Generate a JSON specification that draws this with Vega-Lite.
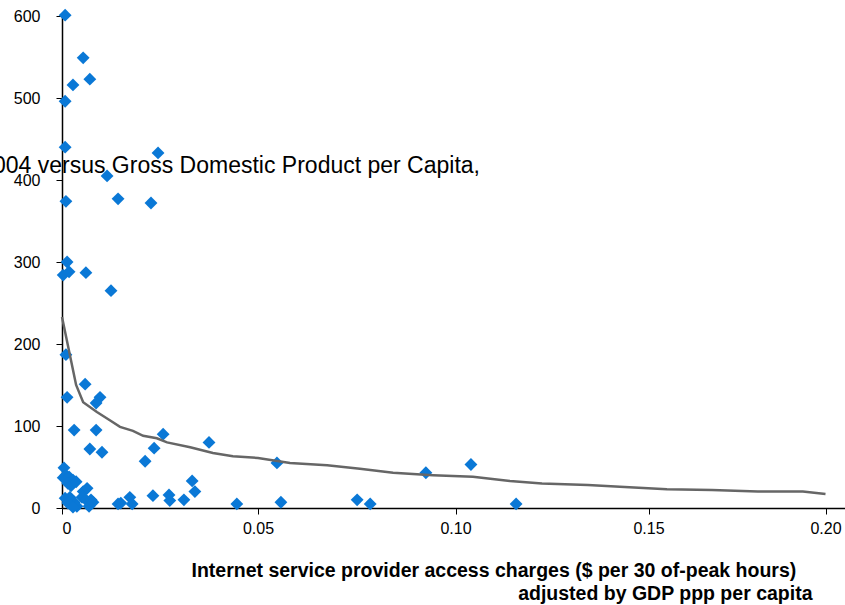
{
  "$schema": "https://vega.github.io/schema/vega-lite/v6.json",
  "width": 783,
  "height": 492,
  "autosize": {"type": "none"},
  "padding": {"left": 62, "top": 16, "right": 0, "bottom": 97},
  "background": "white",
  "title": {
    "text": "2004 versus Gross Domestic Product per Capita,",
    "anchor": "end",
    "frame": "group",
    "orient": "top",
    "offset": 0,
    "baseline": "alphabetic",
    "dx": -365,
    "dy": 188,
    "font": "Liberation Sans",
    "fontSize": 23,
    "fontWeight": "normal",
    "color": "#000000"
  },
  "config": {
    "view": {"stroke": null},
    "font": "Liberation Sans",
    "axis": {
      "grid": false,
      "domainColor": "#000000",
      "domainWidth": 1.5,
      "tickColor": "#000000",
      "tickSize": 6,
      "labelColor": "#000000",
      "labelFont": "Liberation Sans",
      "labelFontSize": 16,
      "titleColor": "#000000"
    }
  },
  "datasets": {
    "pts": [
      {"x": 0.0008, "y": 601}, {"x": 0.0054, "y": 549}, {"x": 0.0028, "y": 516}, {"x": 0.0071, "y": 523},
      {"x": 0.0008, "y": 496}, {"x": 0.0008, "y": 440}, {"x": 0.0245, "y": 433}, {"x": 0.0115, "y": 405},
      {"x": 0.001, "y": 374}, {"x": 0.0143, "y": 377}, {"x": 0.0227, "y": 372}, {"x": 0.0013, "y": 300},
      {"x": 0.0003, "y": 284}, {"x": 0.0018, "y": 288}, {"x": 0.0061, "y": 287}, {"x": 0.0125, "y": 265},
      {"x": 0.001, "y": 187}, {"x": 0.0059, "y": 151}, {"x": 0.0013, "y": 135}, {"x": 0.0097, "y": 135},
      {"x": 0.0087, "y": 128}, {"x": 0.0031, "y": 95}, {"x": 0.0087, "y": 95}, {"x": 0.0071, "y": 72},
      {"x": 0.0102, "y": 68}, {"x": 0.0212, "y": 57}, {"x": 0.0235, "y": 73}, {"x": 0.0258, "y": 90},
      {"x": 0.0375, "y": 80}, {"x": 0.0332, "y": 33}, {"x": 0.0339, "y": 20}, {"x": 0.0446, "y": 5},
      {"x": 0.0232, "y": 15}, {"x": 0.0273, "y": 16}, {"x": 0.0275, "y": 9}, {"x": 0.0311, "y": 10},
      {"x": 0.0173, "y": 13}, {"x": 0.0179, "y": 5}, {"x": 0.0143, "y": 5}, {"x": 0.015, "y": 6},
      {"x": 0.0005, "y": 49}, {"x": 0.001, "y": 40}, {"x": 0.0003, "y": 37}, {"x": 0.0018, "y": 38},
      {"x": 0.0028, "y": 34}, {"x": 0.0015, "y": 30}, {"x": 0.0023, "y": 27}, {"x": 0.0036, "y": 32},
      {"x": 0.0008, "y": 12}, {"x": 0.002, "y": 13}, {"x": 0.0031, "y": 7}, {"x": 0.0015, "y": 6},
      {"x": 0.0038, "y": 2}, {"x": 0.0028, "y": 1}, {"x": 0.0054, "y": 20}, {"x": 0.0064, "y": 24},
      {"x": 0.0051, "y": 13}, {"x": 0.0061, "y": 10}, {"x": 0.0074, "y": 10}, {"x": 0.0069, "y": 2},
      {"x": 0.0079, "y": 7}, {"x": 0.0548, "y": 55}, {"x": 0.0558, "y": 7}, {"x": 0.0751, "y": 10},
      {"x": 0.0784, "y": 5}, {"x": 0.0925, "y": 43}, {"x": 0.104, "y": 53}, {"x": 0.1157, "y": 5}
    ],
    "trend": [
      {"x": 0, "y": 233}, {"x": 0.0036, "y": 150}, {"x": 0.0054, "y": 129}, {"x": 0.0089, "y": 117},
      {"x": 0.0122, "y": 107}, {"x": 0.0148, "y": 99}, {"x": 0.0181, "y": 94}, {"x": 0.0207, "y": 88},
      {"x": 0.0242, "y": 85}, {"x": 0.0268, "y": 80}, {"x": 0.0327, "y": 74}, {"x": 0.0385, "y": 67},
      {"x": 0.0436, "y": 63}, {"x": 0.05, "y": 61}, {"x": 0.0581, "y": 55}, {"x": 0.0675, "y": 52},
      {"x": 0.0758, "y": 48}, {"x": 0.0842, "y": 43}, {"x": 0.0943, "y": 40}, {"x": 0.1045, "y": 38},
      {"x": 0.1141, "y": 33}, {"x": 0.1224, "y": 30}, {"x": 0.1343, "y": 28}, {"x": 0.1426, "y": 26},
      {"x": 0.1552, "y": 23}, {"x": 0.1679, "y": 22}, {"x": 0.1809, "y": 20}, {"x": 0.1936, "y": 20},
      {"x": 0.2, "y": 17}
    ]
  },
  "encoding": {
    "x": {
      "field": "x",
      "type": "quantitative",
      "scale": {
        "domain": [0, 0.05, 0.1, 0.15, 0.2, 0.21],
        "range": [0, 196, 393.5, 586.5, 763.5, 783],
        "clamp": false
      },
      "axis": {
        "values": [0, 0.05, 0.1, 0.15, 0.2],
        "labelExpr": "datum.value == 0 ? '0' : format(datum.value, '.2f')",
        "labelPadding": 6,
        "title": ["Internet service provider access charges ($ per 30 of-peak hours)\u00a0\u00a0\u00a0\u200b", "adjusted by GDP ppp per capita"],
        "titleFont": "Liberation Sans",
        "titleFontSize": 19.5,
        "titleFontWeight": "bold",
        "titleAlign": "right",
        "titleAnchor": null,
        "titleBaseline": "alphabetic",
        "titleLineHeight": 23,
        "titleX": 750,
        "titleY": 68
      }
    },
    "y": {
      "field": "y",
      "type": "quantitative",
      "scale": {"domain": [0, 600], "nice": false},
      "axis": {
        "values": [0, 100, 200, 300, 400, 500, 600],
        "labelPadding": 16,
        "title": null
      }
    }
  },
  "layer": [
    {
      "data": {"name": "pts"},
      "mark": {"type": "point", "shape": "diamond", "filled": true, "size": 165, "color": "#0a78d6", "opacity": 1}
    },
    {
      "data": {"name": "trend"},
      "mark": {"type": "line", "color": "#666666", "strokeWidth": 2.5}
    }
  ]
}
